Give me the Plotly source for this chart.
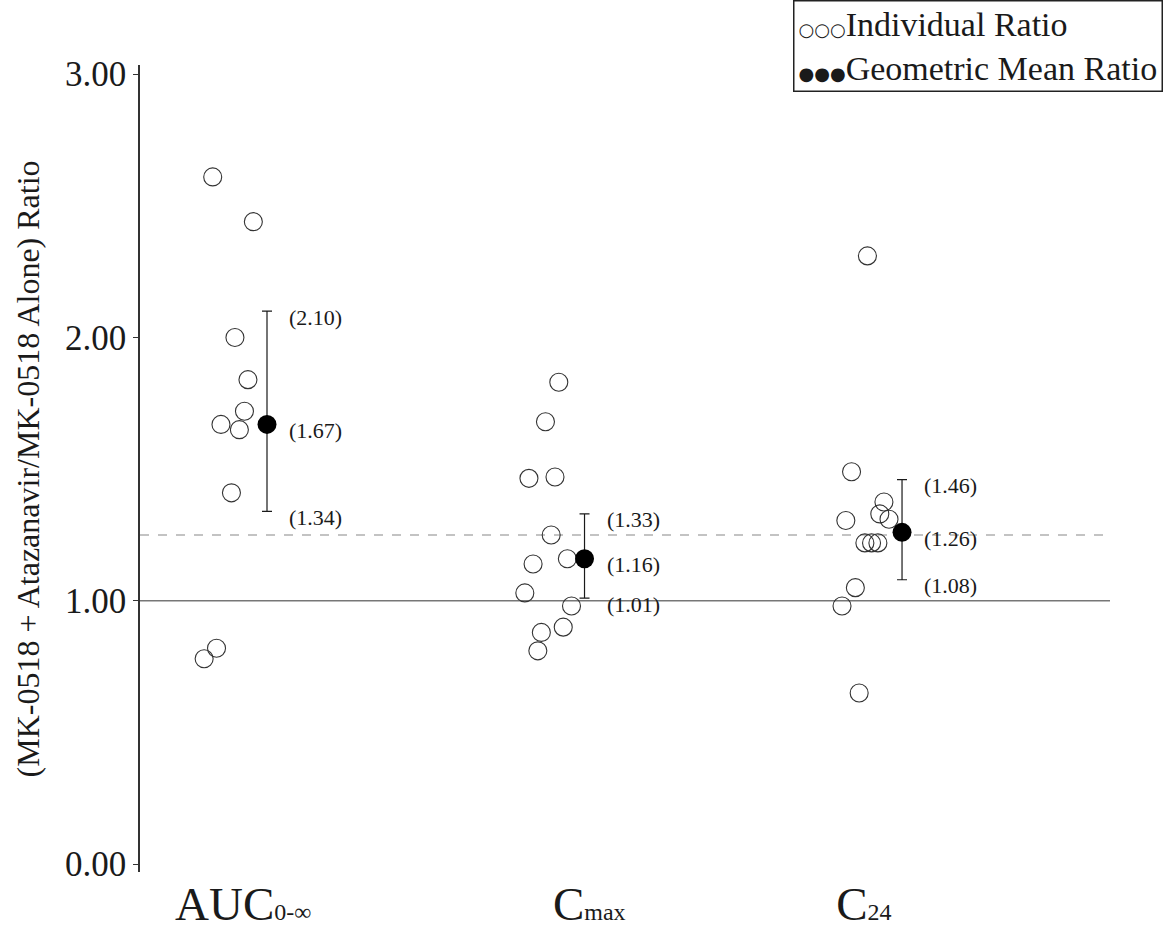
import plotly.graph_objects as go

# Pharmacokinetic parameters (one group per parameter)
categories = ["AUC", "Cmax", "C24"]
category_pos = [1, 2, 3]
tick_labels = [
    "AUC<span style='font-size:24px'>0-∞</span>",
    "C<span style='font-size:24px'>max</span>",
    "C<span style='font-size:24px'>24</span>",
]
tick_label_pos = [0.925, 2.015, 2.88]

# Individual subject ratios (MK-0518 + atazanavir / MK-0518 alone) and their horizontal jitter
auc_ratios = [2.61, 2.44, 2.00, 1.84, 1.72, 1.67, 1.65, 1.41, 0.82, 0.78]
auc_jitter = [-0.171, -0.043, -0.101, -0.060, -0.071, -0.145, -0.087, -0.112, -0.159, -0.198]

cmax_ratios = [1.83, 1.68, 1.465, 1.47, 1.25, 1.14, 1.16, 1.03, 0.98, 0.90, 0.88, 0.81]
cmax_jitter = [-0.081, -0.123, -0.175, -0.093, -0.105, -0.162, -0.054, -0.188, -0.041, -0.067, -0.136, -0.147]

c24_ratios = [2.31, 1.49, 1.375, 1.305, 1.33, 1.31, 1.22, 1.22, 1.22, 1.05, 0.98, 0.65]
c24_jitter = [-0.109, -0.159, -0.057, -0.177, -0.070, -0.041, -0.117, -0.096, -0.076, -0.147, -0.189, -0.135]

# Geometric mean ratios with 90% confidence limits
gmr = [1.67, 1.16, 1.26]
ci_lower = [1.34, 1.01, 1.08]
ci_upper = [2.10, 1.33, 1.46]

no_effect_ratio = 1.00
reference_ratio = 1.25

y_title = "(MK-0518 + Atazanavir/MK-0518 Alone) Ratio"

SERIF = "Liberation Serif, Times New Roman, serif"
INK = "#1a1a1a"

fig = go.Figure()

individual = [(auc_ratios, auc_jitter), (cmax_ratios, cmax_jitter), (c24_ratios, c24_jitter)]
for pos, (vals, jit) in zip(category_pos, individual):
    fig.add_trace(go.Scatter(
        x=[pos + j for j in jit],
        y=vals,
        mode="markers",
        marker=dict(symbol="circle-open", size=18, color="#333333", line=dict(width=1.1)),
        showlegend=False,
        hoverinfo="y",
    ))

fig.add_trace(go.Scatter(
    x=category_pos,
    y=gmr,
    mode="markers",
    marker=dict(symbol="circle", size=19, color="black"),
    error_y=dict(
        type="data",
        symmetric=False,
        array=[u - m for u, m in zip(ci_upper, gmr)],
        arrayminus=[m - l for m, l in zip(gmr, ci_lower)],
        color=INK,
        thickness=1.2,
        width=5,
    ),
    showlegend=False,
    hoverinfo="y",
))

# Reference lines at ratio 1.00 (solid) and 1.25 (dashed)
fig.add_shape(type="line", xref="paper", yref="y", x0=0, x1=1,
              y0=no_effect_ratio, y1=no_effect_ratio,
              line=dict(color="#777777", width=1.4), layer="below")
fig.add_shape(type="line", xref="paper", yref="y", x0=0, x1=1,
              y0=reference_ratio, y1=reference_ratio,
              line=dict(color="#888888", width=1.2, dash="dash"), layer="below")

# Value labels next to each mean and its confidence limits
for pos, m, lo, hi in zip(category_pos, gmr, ci_lower, ci_upper):
    for v in (hi, m, lo):
        fig.add_annotation(
            x=pos + 0.063, y=v, xref="x", yref="y",
            text=f"({v:.2f})", showarrow=False,
            xanchor="left", yanchor="middle", yshift=-6,
            font=dict(family=SERIF, size=22, color=INK),
        )

# Vertical axis title
fig.add_annotation(
    xref="paper", yref="paper", x=-0.1155, y=0.5,
    xanchor="center", yanchor="middle", textangle=-90,
    text=y_title, showarrow=False,
    font=dict(family=SERIF, size=32, color=INK),
)

# Legend box
fig.add_annotation(
    xref="paper", yref="paper", x=1.0545, y=1.0806,
    xanchor="right", yanchor="top", align="left",
    text=("<span style='font-family:DejaVu Sans;font-size:18px'>○○○</span>Individual Ratio<br>"
          "<span style='font-family:DejaVu Sans;font-size:18px'>●●●</span>Geometric Mean Ratio"),
    showarrow=False,
    font=dict(family=SERIF, size=34, color=INK),
    bordercolor="#222222", borderwidth=1.5, borderpad=4, bgcolor="white",
)

fig.update_layout(
    template="none",
    width=1165, height=932,
    margin=dict(l=140, r=55, t=65, b=60),
    paper_bgcolor="white", plot_bgcolor="white",
    font=dict(family=SERIF, color=INK),
    showlegend=False,
    xaxis=dict(
        range=[0.6, 3.655],
        showgrid=False, zeroline=False, showline=False,
        tickmode="array", tickvals=tick_label_pos, ticktext=tick_labels,
        ticks="", tickfont=dict(family=SERIF, size=47, color=INK),
    ),
    yaxis=dict(
        range=[-0.03, 3.035],
        showgrid=False, zeroline=False,
        showline=True, linecolor="#333333", linewidth=1.5,
        ticks="outside", ticklen=5, tickcolor="#333333",
        tickmode="array", tickvals=[0, 1, 2, 3], tickformat=".2f",
        tickfont=dict(family=SERIF, size=35, color=INK),
    ),
)

fig.write_html("out.html")
